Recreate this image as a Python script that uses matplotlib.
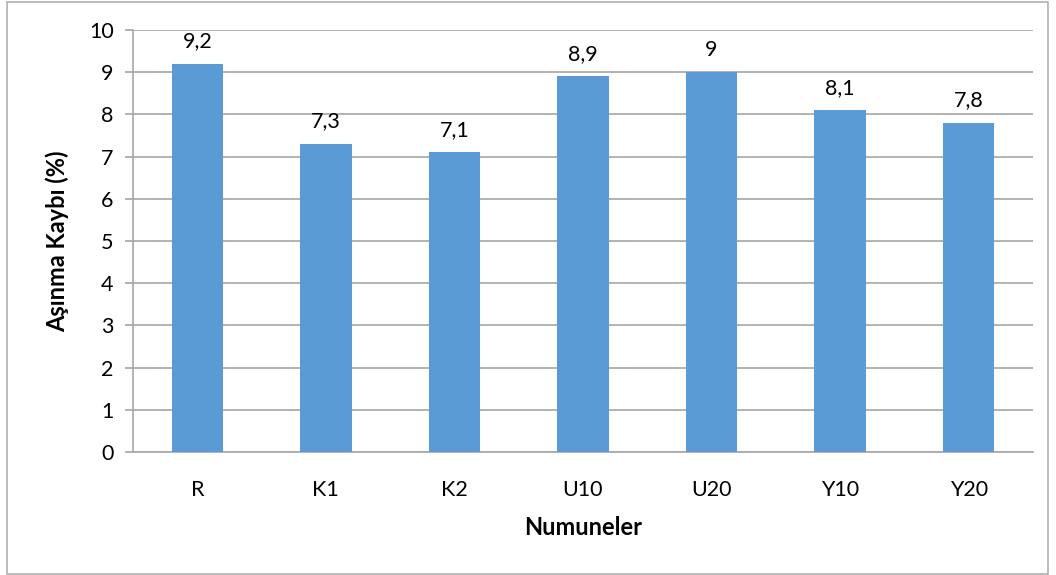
import matplotlib
matplotlib.use("Agg")
import matplotlib.pyplot as plt
from matplotlib.patches import Rectangle

categories = ["R", "K1", "K2", "U10", "U20", "Y10", "Y20"]
values = [9.2, 7.3, 7.1, 8.9, 9.0, 8.1, 7.8]
labels = ["9,2", "7,3", "7,1", "8,9", "9", "8,1", "7,8"]
yticks = list(range(0, 11))

plt.rcParams['font.family'] = ['Lato', 'DejaVu Sans']

fig = plt.figure(figsize=(10.56, 5.75), dpi=100)
ax = fig.add_axes([133/1056, (575-452)/575, 900/1056, 422/575])

x = list(range(len(categories)))
bars = ax.bar(x, values, width=0.4, color="#5B9BD5", zorder=3)
for xi, v, lab in zip(x, values, labels):
    ax.annotate(lab, (xi, v), xytext=(0, 9), textcoords="offset points",
                ha="center", va="bottom", fontsize=15.5, color="black")

ax.set_xlim(-0.5, len(categories) - 0.5)
ax.set_ylim(0, 10)
ax.set_yticks(yticks)
ax.set_xticks(x)
ax.set_xticklabels(categories)
ax.yaxis.grid(True, color="#a6a6a6", linewidth=1.2, zorder=0)
ax.set_axisbelow(True)
for s in ["top", "right"]:
    ax.spines[s].set_visible(False)
ax.spines["left"].set_color("#a6a6a6")
ax.spines["bottom"].set_color("#a6a6a6")
ax.spines["left"].set_linewidth(1.2)
ax.spines["bottom"].set_linewidth(1.2)
ax.tick_params(axis="y", length=6, color="#a6a6a6", width=1.2, labelsize=15.5, pad=8)
ax.tick_params(axis="x", length=0, labelsize=15.5, pad=20)
ax.set_xlabel("Numuneler", fontsize=17, fontweight="bold", labelpad=12)
ax.set_ylabel("Aşınma Kaybı (%)", fontsize=17, fontweight="bold", labelpad=14)

fig.patches.append(Rectangle((7/1056, 1/575), 1041/1056, 572/575, transform=fig.transFigure,
                             fill=False, edgecolor="#b0b0b0", linewidth=1.2))

fig.savefig("out.png", dpi=100)
